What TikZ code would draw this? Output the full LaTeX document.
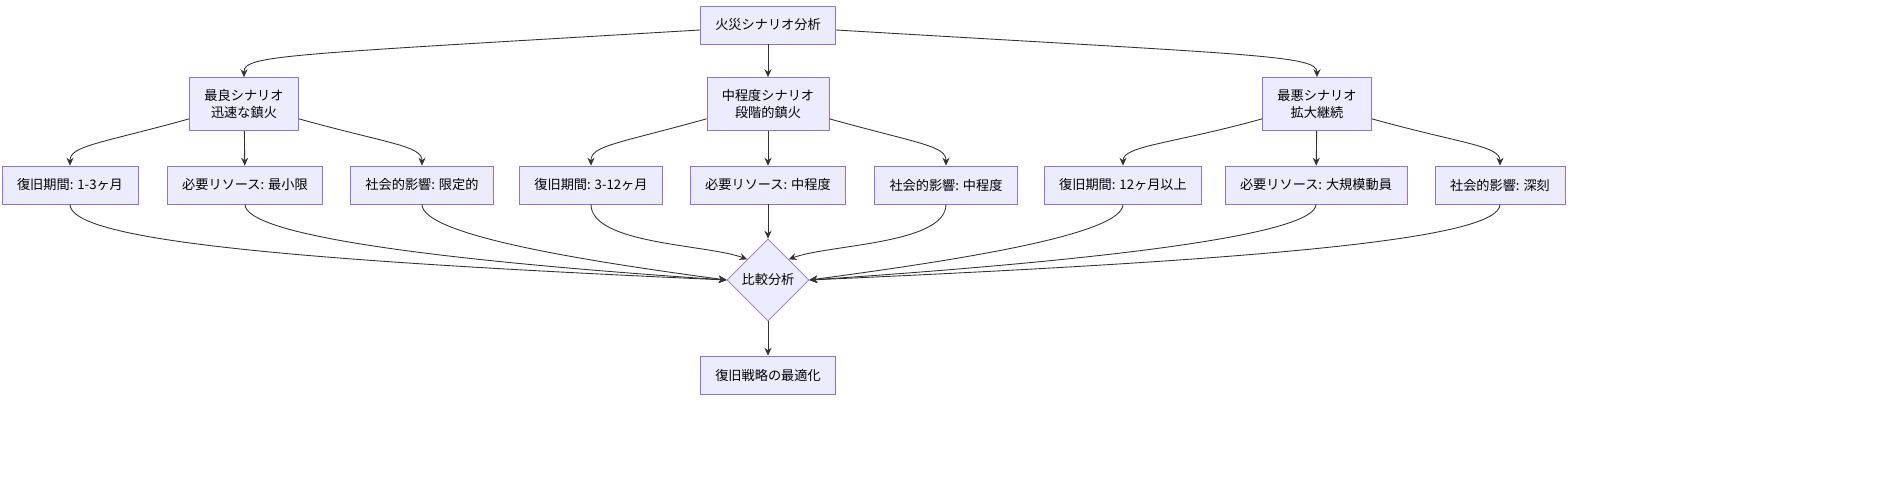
\documentclass[tikz,border=0pt]{standalone}
\usepackage{fontspec}
\setmainfont{Noto Sans CJK JP}
\usetikzlibrary{shapes.geometric,arrows.meta,positioning}
\definecolor{nodeline}{HTML}{9370DB}
\definecolor{nodefill}{HTML}{ECECFF}
\tikzstyle{box}=[draw=nodeline, fill=nodefill, font=\fontsize{7.5}{9.5}\selectfont, align=center, minimum height=0.76cm, inner xsep=0.3cm]
\tikzstyle{tall}=[minimum height=1.06cm]
\tikzstyle{dia}=[draw=nodeline, fill=nodefill, font=\fontsize{7.5}{9.5}\selectfont, diamond, minimum size=1.64cm, inner sep=0]
\tikzstyle{arr}=[draw=black!80, line width=0.5pt, -{Stealth[length=4.5pt,width=4pt]}]
\begin{document}
\begin{tikzpicture}[x=0.02cm, y=-0.02cm]
                \useasboundingbox (0,0) rectangle (1904,486);
                % top and second level
                \node[box] (fire) at (768,25) {火災シナリオ分析};
                \node[box,tall] (best) at (244,104) {最良シナリオ\\迅速な鎮火};
                \node[box,tall] (mid) at (768,104) {中程度シナリオ\\段階的鎮火};
                \node[box,tall] (worst) at (1317,104) {最悪シナリオ\\拡大継続};
                % third level
                \node[box] (bt) at (70,185) {復旧期間: 1-3ヶ月};
                \node[box] (br) at (245,185) {必要リソース: 最小限};
                \node[box] (bs) at (422,185) {社会的影響: 限定的};
                \node[box] (mt) at (591,185) {復旧期間: 3-12ヶ月};
                \node[box] (mr) at (768,185) {必要リソース: 中程度};
                \node[box] (ms) at (946,185) {社会的影響: 中程度};
                \node[box] (wt) at (1123,185) {復旧期間: 12ヶ月以上};
                \node[box] (wr) at (1316,185) {必要リソース: 大規模動員};
                \node[box] (ws) at (1500,185) {社会的影響: 深刻};
                \node[dia] (cmp) at (768,280) {比較分析};
                \node[box] (opt) at (768,375) {復旧戦略の最適化};
                % connectors
                \draw[arr] (fire.west) ++(0,5) .. controls +(-420,25) and +(0,-22) .. (best.north);
                \draw[arr] (fire) -- (mid);
                \draw[arr] (fire.east) ++(0,5) .. controls +(420,25) and +(0,-22) .. (worst.north);
                \foreach \p/\a/\b/\c in {best/bt/br/bs, mid/mt/mr/ms, worst/wt/wr/ws} {
                    \draw[arr] (\p.south west) ++(0,-12) .. controls +(-90,25) and +(0,-20) .. (\a.north);
                    \draw[arr] (\p) -- (\b);
                    \draw[arr] (\p.south east) ++(0,-12) .. controls +(90,25) and +(0,-20) .. (\c.north);
                }
                \draw[arr] (bt.south) .. controls +(0,35) and +(-450,-20) .. (cmp.west);
                \draw[arr] (br.south) .. controls +(0,30) and +(-300,-20) .. (cmp.west);
                \draw[arr] (bs.south) .. controls +(0,30) and +(-150,-20) .. (cmp.west);
                \draw[arr] (mt.south) .. controls +(0,40) and +(-40,-15) .. (cmp.north west);
                \draw[arr] (mr) -- (cmp);
                \draw[arr] (ms.south) .. controls +(0,40) and +(40,-15) .. (cmp.north east);
                \draw[arr] (wt.south) .. controls +(0,30) and +(150,-20) .. (cmp.east);
                \draw[arr] (wr.south) .. controls +(0,30) and +(300,-20) .. (cmp.east);
                \draw[arr] (ws.south) .. controls +(0,35) and +(450,-20) .. (cmp.east);
                \draw[arr] (cmp) -- (opt);
\end{tikzpicture}
\end{document}
